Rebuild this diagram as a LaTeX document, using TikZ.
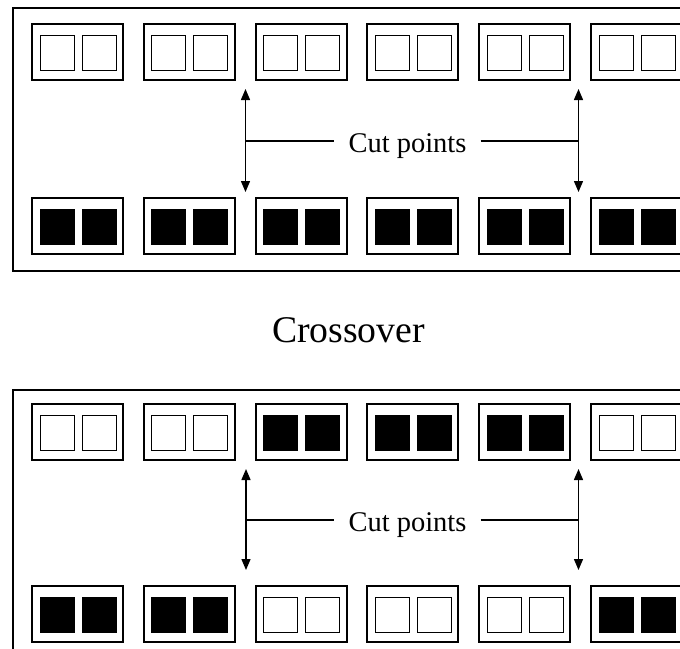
\documentclass[tikz,border=0pt]{standalone}
\usepackage{fontspec}
\setmainfont{Liberation Serif}
\usetikzlibrary{arrows.meta}
\newcommand\chromo[4]{%
  \node[chrom] (#1) at (#2,#3) {};
  \node[gene,fill=#4] (#1a) at (#2+8,#3+11) {};
  \node[gene,fill=#4] (#1b) at (#2+50,#3+11) {};}
\begin{document}
\begin{tikzpicture}[x=1pt,y=-1pt,
  panel/.style={draw,line width=2pt},
  chrom/.style={draw,line width=2pt,minimum width=91pt,minimum height=56pt,inner sep=0pt,anchor=north west,outer sep=0pt},
  gene/.style={draw,line width=0.9pt,minimum width=34pt,minimum height=35pt,inner sep=0pt,anchor=north west,outer sep=0pt},
  cutarrow/.style={line width=1.4pt,{Triangle[length=11pt,width=9pt]}-{Triangle[length=11pt,width=9pt]}},
  lead/.style={line width=1.4pt},
  cutlabel/.style={font=\fontsize{28.5}{30}\selectfont,anchor=base,inner xsep=14pt,inner ysep=0pt},
  title/.style={font=\fontsize{37.7}{40}\selectfont,anchor=base,inner sep=0pt}]
\useasboundingbox (0,0) rectangle (680,648);
\clip (0,0) rectangle (680,648);
% upper panel
\draw[panel] (13,8) rectangle (720,271);
\foreach \i in {0,...,5}{\chromo{a\i}{32+111.8*\i}{24}{white}}
\foreach \i in {0,...,5}{\chromo{b\i}{32+111.8*\i}{198}{black}}
\coordinate (u1) at (245.5,89);
\coordinate (d1) at (245.5,192);
\coordinate (m1) at (245.5,141);
\coordinate (u2) at (578.5,89);
\coordinate (d2) at (578.5,192);
\coordinate (m2) at (578.5,141);
\draw[cutarrow] (u1) -- (d1);
\draw[cutarrow] (u2) -- (d2);
\node[cutlabel] (cut1) at (407.5,152) {Cut points};
\draw[lead] (m1) -- (m1 -| cut1.west);
\draw[lead] (m2 -| cut1.east) -- (m2);
% title
\node[title] (cross) at (348.5,342) {Crossover};
% lower panel
\draw[panel] (13,390) rectangle (720,660);
\foreach \i/\f in {0/white,1/white,2/black,3/black,4/black,5/white}{\chromo{c\i}{32+111.8*\i}{404}{\f}}
\foreach \i/\f in {0/black,1/black,2/white,3/white,4/white,5/black}{\chromo{e\i}{32+111.8*\i}{586}{\f}}
\coordinate (u3) at (246,469);
\coordinate (d3) at (246,570);
\coordinate (m3) at (246,520);
\coordinate (u4) at (578.5,469);
\coordinate (d4) at (578.5,570);
\coordinate (m4) at (578.5,520);
\draw[cutarrow] (u3) -- (d3);
\draw[cutarrow] (u4) -- (d4);
\node[cutlabel] (cut2) at (407.5,531) {Cut points};
\draw[lead] (m3) -- (m3 -| cut2.west);
\draw[lead] (m4 -| cut2.east) -- (m4);
\end{tikzpicture}
\end{document}
